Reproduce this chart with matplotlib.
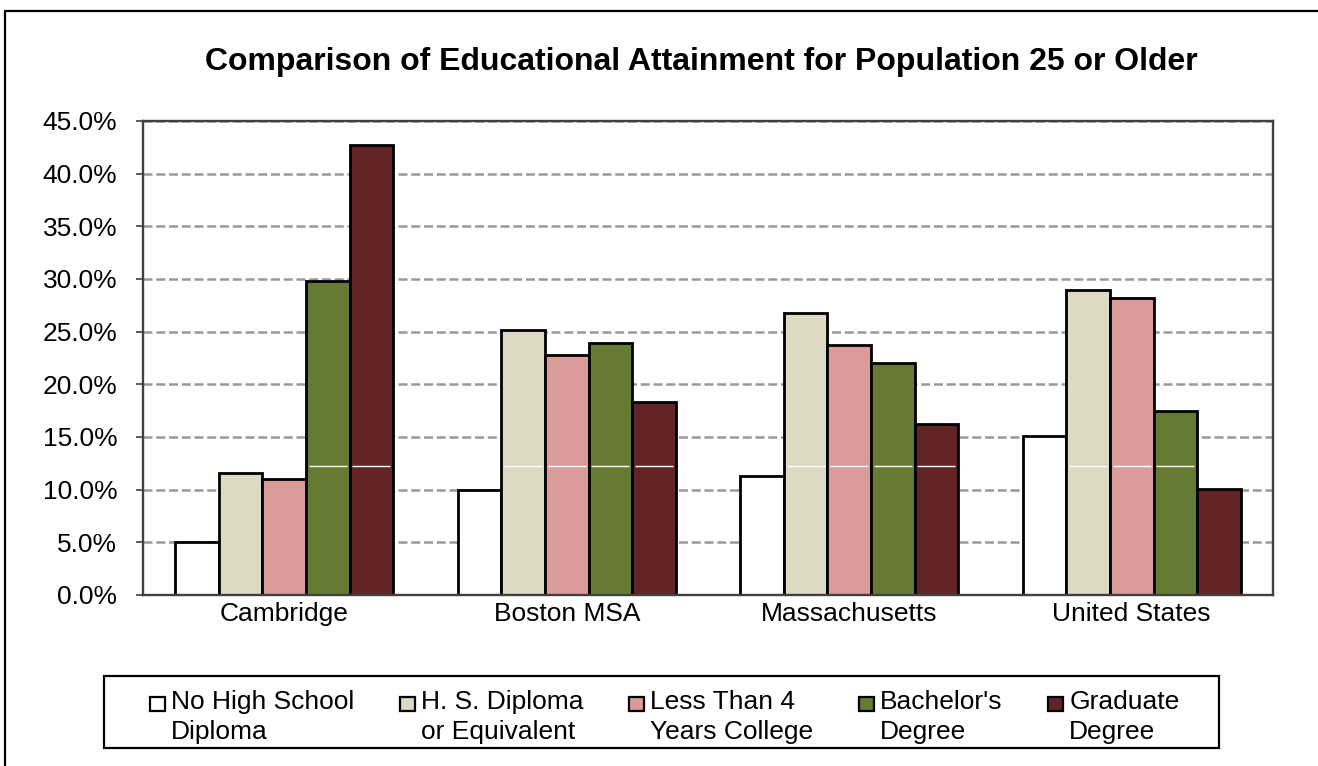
import matplotlib
matplotlib.use("Agg")
import matplotlib.pyplot as plt
import matplotlib.patches as mpatches
from matplotlib.legend_handler import HandlerPatch
from matplotlib.ticker import FuncFormatter
import numpy as np

plt.rcParams["font.family"] = ["Liberation Sans", "DejaVu Sans"]

# ---- data -------------------------------------------------------------
regions = ["Cambridge", "Boston MSA", "Massachusetts", "United States"]
levels = [
    "No High School\nDiploma",
    "H. S. Diploma\nor Equivalent",
    "Less Than 4\nYears College",
    "Bachelor's\nDegree",
    "Graduate\nDegree",
]
no_high_school = [5.0, 10.0, 11.3, 15.1]
hs_diploma = [11.6, 25.2, 26.8, 29.0]
some_college = [11.0, 22.8, 23.7, 28.2]
bachelors = [29.8, 23.9, 22.0, 17.5]
graduate = [42.7, 18.3, 16.2, 10.1]
series = [no_high_school, hs_diploma, some_college, bachelors, graduate]
colors = ["#FFFFFF", "#DDD9C3", "#DB9B9B", "#657B33", "#632426"]
y_ticks = [0, 5, 10, 15, 20, 25, 30, 35, 40, 45]
title = "Comparison of Educational Attainment for Population 25 or Older"

# ---- figure geometry (pixels) ----------------------------------------
W, H = 1318, 766
DPI = 100
fig = plt.figure(figsize=(W / DPI, H / DPI), dpi=DPI)

def fx(px):
    return px / W

def fy(py):
    return 1 - py / H

ax_l, ax_r, ax_t, ax_b = 143, 1273, 121, 595
ax = fig.add_axes([fx(ax_l), fy(ax_b), fx(ax_r - ax_l), (ax_b - ax_t) / H])

# ---- bars ------------------------------------------------------------------
x = np.arange(len(regions))
bw = 0.154
for i, (vals, col) in enumerate(zip(series, colors)):
    ax.bar(x + (i - 2) * bw, vals, width=bw, color=col, edgecolor="black",
           linewidth=2.0, zorder=3)

# thin white seam running across the bars
seam = 12.25
for i, vals in enumerate(series):
    for xi, v in zip(x, vals):
        if v > seam:
            cx = xi + (i - 2) * bw
            ax.plot([cx - bw / 2 + 0.01, cx + bw / 2 - 0.01], [seam, seam],
                    color="white", lw=1.0, zorder=4, solid_capstyle="butt")

# ---- axes styling ----------------------------------------------------------
ax.set_xlim(-0.5, len(regions) - 0.5)
ax.set_ylim(0, 45)
ax.set_yticks(y_ticks)
ax.yaxis.set_major_formatter(FuncFormatter(lambda v, p: f"{v:.1f}%"))
ax.set_xticks(x)
ax.set_xticklabels(regions)
ax.tick_params(axis="y", length=5, width=1.2, color="#404040", pad=13.5,
               labelsize=19, direction="out")
ax.tick_params(axis="x", length=0, pad=5, labelsize=19)
for s in ax.spines.values():
    s.set_color("#404040")
    s.set_linewidth(1.7)
    s.set_zorder(5)
ax.yaxis.grid(True, color="#999999", linestyle=(0, (3.6, 1.5)), linewidth=1.8,
              zorder=1)
ax.set_axisbelow(True)

# ---- title -----------------------------------------------------------------
fig.text(fx(701), fy(62), title, ha="center", va="center", fontsize=23,
         fontweight="bold")

# ---- legend ----------------------------------------------------------------
FS = 19
LINESP = 1.3

def first_line_patch(legend, orig_handle, xdescent, ydescent, width, height,
                     fontsize):
    # place the swatch beside the first line of a two-line label
    lift = fontsize * (0.21 + 0.729 * LINESP)
    return mpatches.Rectangle((-xdescent, lift - 0.58 * fontsize), width,
                              fontsize * 0.53)

handles = [mpatches.Rectangle((0, 0), 1, 1, facecolor=c, edgecolor="black",
                              linewidth=1.6) for c in colors]
leg = fig.legend(handles, levels, loc="center left",
                 bbox_to_anchor=(fx(150), fy(717)), ncol=5, frameon=False,
                 fontsize=FS, handlelength=0.57, handleheight=0.7,
                 handletextpad=0.22, columnspacing=1.74, borderpad=0,
                 borderaxespad=0,
                 handler_map={mpatches.Rectangle: HandlerPatch(patch_func=first_line_patch)})
for t in leg.get_texts():
    t.set_linespacing(LINESP)

fig.patches.append(mpatches.Rectangle((fx(104), fy(748)), fx(1219 - 104),
                                      (748 - 676) / H, transform=fig.transFigure,
                                      fill=False, edgecolor="black", lw=1.6))

# outer chart border (continues past the right and bottom edges)
fig.patches.append(mpatches.Rectangle((fx(5), -0.2), 1.2, 0.2 + fy(11),
                                      transform=fig.transFigure, fill=False,
                                      edgecolor="black", lw=1.6))

fig.savefig("out.png", dpi=DPI)
